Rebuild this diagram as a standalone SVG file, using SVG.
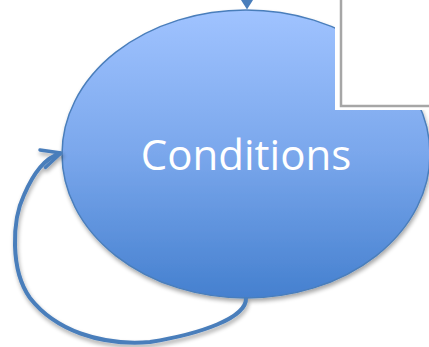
<svg xmlns="http://www.w3.org/2000/svg" width="429" height="347" viewBox="0 0 429 347">
  <defs>
    <linearGradient id="fillGrad" x1="0" y1="0" x2="0" y2="1">
      <stop offset="0" stop-color="#a0c3ff"/>
      <stop offset="0.5" stop-color="#7aa7ec"/>
      <stop offset="1" stop-color="#4580cf"/>
    </linearGradient>
    <filter id="shadow" x="-10%" y="-10%" width="125%" height="125%">
      <feGaussianBlur in="SourceAlpha" stdDeviation="2"/>
      <feOffset dx="1" dy="3" result="b"/>
      <feComponentTransfer><feFuncA type="linear" slope="0.35"/></feComponentTransfer>
      <feMerge><feMergeNode/><feMergeNode in="SourceGraphic"/></feMerge>
    </filter>
    <marker id="openArrow" viewBox="0 0 10 10" refX="9" refY="5" markerWidth="6" markerHeight="6" orient="auto" markerUnits="strokeWidth">
      <polyline points="1,1.2 9,5 1,8.8" fill="none" stroke="#4a7ebb" stroke-width="1.4" stroke-linecap="round" stroke-linejoin="round"/>
    </marker>
    <style>
      .conn { fill: none; stroke: #4a7ebb; stroke-width: 4; }
      .label { font-family: "Open Sans", "Liberation Sans", sans-serif; font-size: 42px; fill: #ffffff; }
    </style>
  </defs>

  <g id="node-conditions">
    <ellipse cx="246" cy="154" rx="184" ry="144" fill="url(#fillGrad)" stroke="#4a7ebb" stroke-width="1.5" filter="url(#shadow)"/>
    <text class="label" x="246" y="170" text-anchor="middle">Conditions</text>
  </g>

  <g id="node-box">
    <rect x="335" y="-5" width="100" height="115" fill="#ffffff"/>
    <rect x="341" y="-5" width="95" height="111" fill="#ffffff" stroke="#a6a6a6" stroke-width="2.5"/>
  </g>

  <g id="connectors">
    <polygon points="241,0 253,0 247,9.5" fill="#4a7ebb"/>
    <path class="conn" filter="url(#shadow)" marker-end="url(#openArrow)" d="M 246 298 C 247 318, 200 334, 150 342 C 100 346, 55 330, 30 298 C 10 270, 12 220, 24 195 C 34 172, 45 158, 61 153"/>
  </g>
</svg>
